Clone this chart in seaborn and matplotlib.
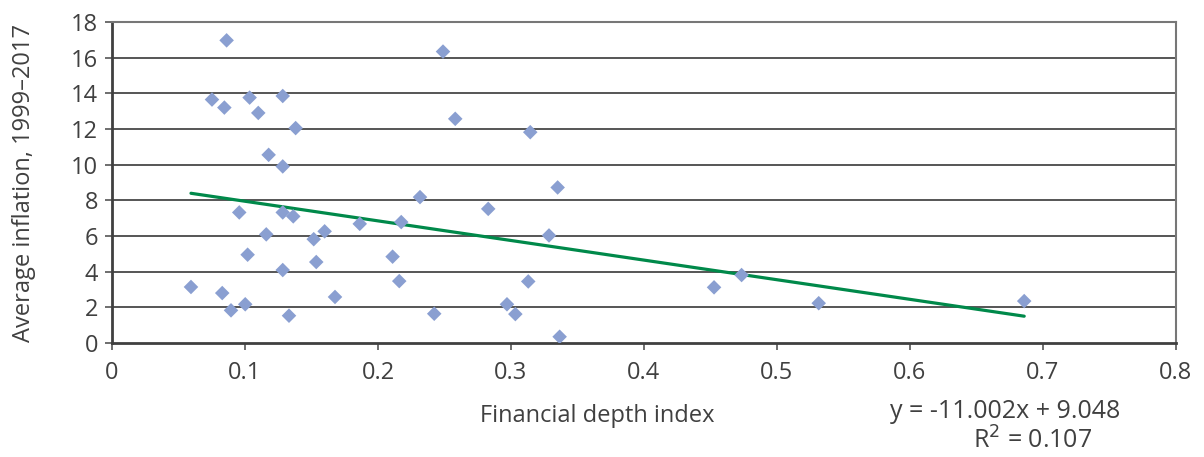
import numpy as np
import pandas as pd
import matplotlib
matplotlib.use('Agg')
import matplotlib.pyplot as plt
import seaborn as sns

# ---- DATA ----
depth = [0.0594, 0.0752, 0.0845, 0.0862, 0.0829, 0.0895, 0.0957, 0.1002, 0.1020, 0.1035,
         0.1100, 0.1178, 0.1160, 0.1284, 0.1284, 0.1284, 0.1284, 0.1331, 0.1363, 0.1381,
         0.1517, 0.1536, 0.1599, 0.1677, 0.1863, 0.2110, 0.2160, 0.2175, 0.2316, 0.2423,
         0.2489, 0.2581, 0.2829, 0.2970, 0.3033, 0.3145, 0.3130, 0.3286, 0.3351, 0.3366,
         0.4527, 0.4734, 0.5314, 0.6859]
inflation = [3.14, 13.65, 13.20, 16.97, 2.80, 1.83, 7.32, 2.17, 4.95, 13.76,
             12.90, 10.55, 6.09, 13.85, 9.90, 7.32, 4.09, 1.53, 7.10, 12.05,
             5.82, 4.54, 6.26, 2.58, 6.68, 4.84, 3.47, 6.78, 8.18, 1.64,
             16.34, 12.57, 7.52, 2.17, 1.62, 11.82, 3.45, 6.03, 8.72, 0.35,
             3.12, 3.81, 2.23, 2.35]
slope = -11.002
intercept = 9.048
r2 = 0.107

df = pd.DataFrame({'depth': depth, 'inflation': inflation})
trend = pd.DataFrame({'depth': [min(depth), max(depth)]})
trend['inflation'] = slope * trend['depth'] + intercept

# ---- PLOT ----
sns.set_style('white')
plt.rcParams['font.family'] = ['Open Sans', 'DejaVu Sans']
txt = '#404040'
fs = 17

fig = plt.figure(figsize=(12.04, 4.57), dpi=100)
ax = fig.add_axes([0.093, 0.2495, 0.8837, 0.7024])

for v in range(2, 18, 2):
    ax.axhline(v, color='#555555', lw=1.4, zorder=0)

sns.lineplot(data=trend, x='depth', y='inflation', ax=ax, color='#00894a', lw=2.3, zorder=2)
sns.scatterplot(data=df, x='depth', y='inflation', ax=ax, marker='D', s=55,
                color='#8a9fd1', edgecolor='none', zorder=3)

ax.set_xlim(0, 0.8)
ax.set_ylim(0, 18)
ax.set_xticks(np.arange(0, 0.81, 0.1))
ax.set_xticklabels(['0', '0.1', '0.2', '0.3', '0.4', '0.5', '0.6', '0.7', '0.8'])
ax.set_yticks(range(0, 19, 2))
ax.tick_params(axis='both', direction='out', length=5, width=1.2, color='#555555',
               labelsize=fs, labelcolor=txt, left=True, bottom=True)
ax.tick_params(axis='x', pad=8)
ax.tick_params(axis='y', pad=5)

for side in ['left', 'bottom']:
    ax.spines[side].set_color('#404040')
    ax.spines[side].set_linewidth(2)
for side in ['top', 'right']:
    ax.spines[side].set_color('#777777')
    ax.spines[side].set_linewidth(1.5)

ax.set_xlabel('Financial depth index', fontsize=fs, color=txt)
ax.xaxis.set_label_coords(0.456, -0.19)
ax.set_ylabel('Average inflation, 1999\u20132017', fontsize=fs, color=txt)
ax.yaxis.set_label_coords(-0.071, 0.5)

fig.text(1005 / 1204, 1 - 411 / 457, f'y = {slope}x + {intercept}', fontsize=fs + 1,
         color=txt, ha='center', va='center')
fig.text(1033 / 1204, 1 - 441 / 457, f'R$^2$ = {r2}', fontsize=fs + 1,
         color=txt, ha='center', va='center')

fig.savefig('out.png', dpi=100)
